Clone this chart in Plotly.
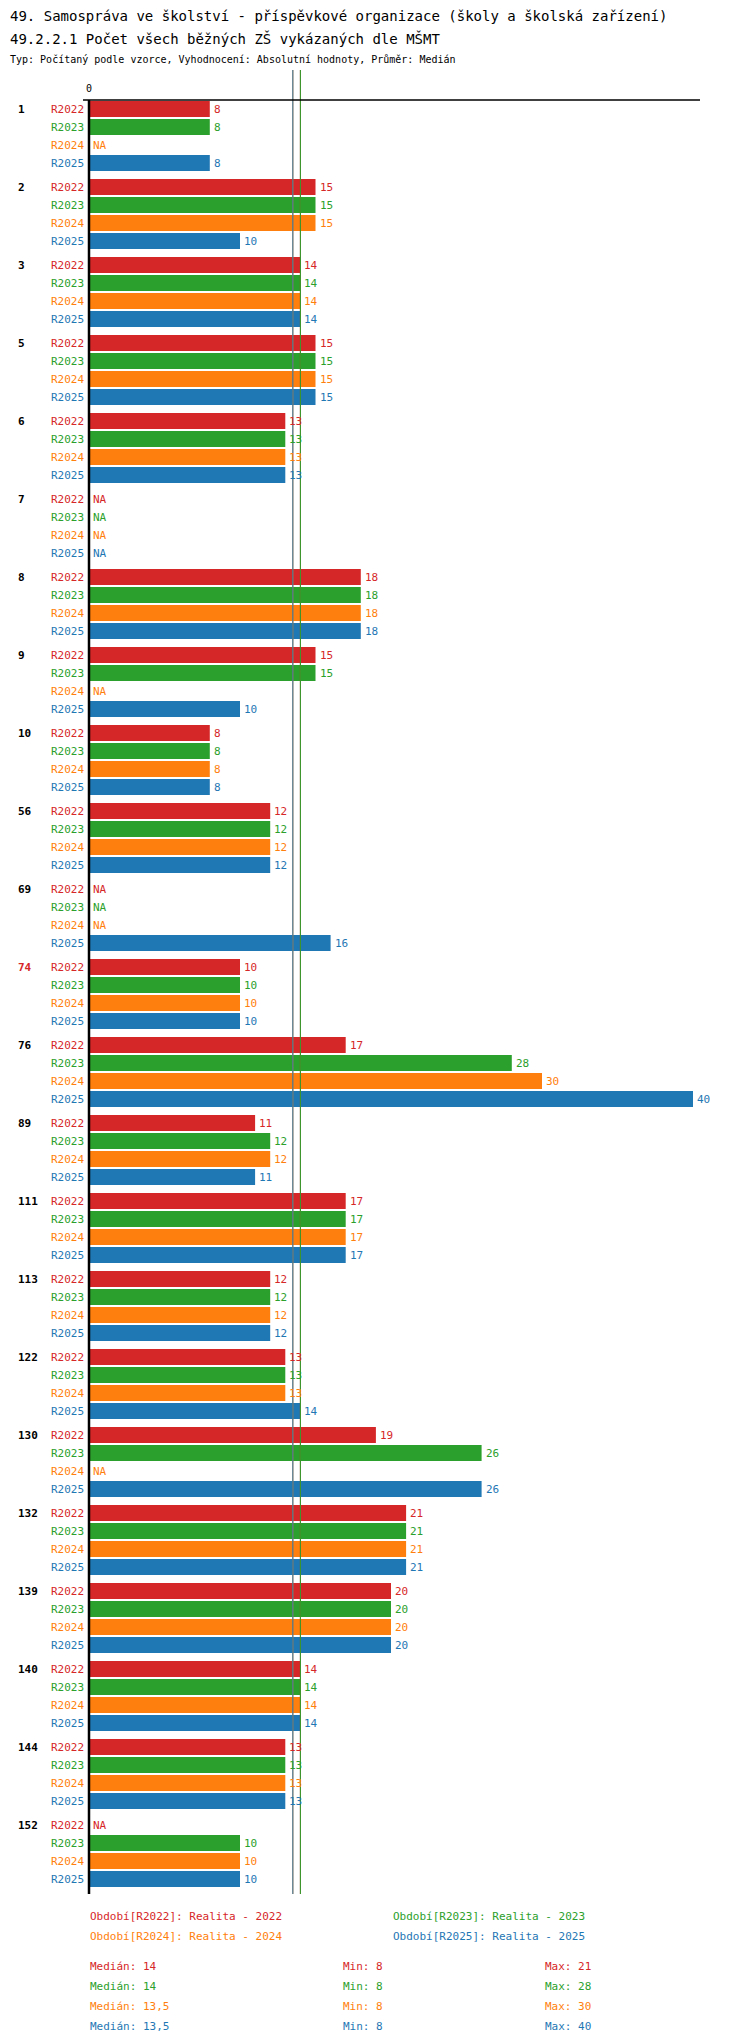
import plotly.graph_objs as go

# data
groups = ["1", "2", "3", "5", "6", "7", "8", "9", "10", "56", "69", "74", "76", "89",
          "111", "113", "122", "130", "132", "139", "140", "144", "152"]
periods = ["R2022", "R2023", "R2024", "R2025"]
colors = ["#d62728", "#2ca02c", "#ff7f0e", "#1f77b4"]
N = None
values = {
    "R2022": [8, 15, 14, 15, 13, N, 18, 15, 8, 12, N, 10, 17, 11, 17, 12, 13, 19, 21, 20, 14, 13, N],
    "R2023": [8, 15, 14, 15, 13, N, 18, 15, 8, 12, N, 10, 28, 12, 17, 12, 13, 26, 21, 20, 14, 13, 10],
    "R2024": [N, 15, 14, 15, 13, N, 18, N, 8, 12, N, 10, 30, 12, 17, 12, 13, N, 21, 20, 14, 13, 10],
    "R2025": [8, 10, 14, 15, 13, N, 18, 10, 8, 12, 16, 10, 40, 11, 17, 12, 14, 26, 21, 20, 14, 13, 10],
}
medians = [14, 14, 13.5, 13.5]
mins = [8, 8, 8, 8]
maxs = [21, 28, 30, 40]
median_txt = ["14", "14", "13,5", "13,5"]
highlight = "74"

W, H = 750, 2036
X0, PX = 81, 15.1          # pixel of zero, pixels per unit
TOP, GSTEP, RSTEP = 101, 78, 18
AX_TOP, AX_BOT = 92, 1886
FONT = "DejaVu Sans Mono"

def px2x(p):
    return (p - X0) / PX

fig = go.Figure()
annos = []
for pi, per in enumerate(periods):
    ys, xs, txt = [], [], []
    for gi, g in enumerate(groups):
        y = TOP + gi * GSTEP + pi * RSTEP
        v = values[per][gi]
        if v is not None:
            ys.append(y); xs.append(v)
        annos.append(dict(x=0, y=y, text=per, xanchor="right", xshift=-3, showarrow=False,
                          font=dict(color=colors[pi], size=11, family=FONT)))
        annos.append(dict(x=v if v is not None else 0, y=y, text=str(v) if v is not None else "NA",
                          xanchor="left", xshift=2, showarrow=False,
                          font=dict(color=colors[pi], size=11, family=FONT)))
    fig.add_trace(go.Bar(x=xs, y=ys, orientation="h", width=16, marker_color=colors[pi],
                         marker_line_width=0, showlegend=False))

for gi, g in enumerate(groups):
    annos.append(dict(x=px2x(8), y=TOP + gi * GSTEP, text="<b>%s</b>" % g, xanchor="left",
                      showarrow=False,
                      font=dict(color="#d62728" if g == highlight else "black", size=11, family=FONT)))

shapes = []
for pi in [0, 2, 1, 3]:
    pass
# median lines (orange under blue, red under green)
for pi in [2, 3, 0, 1]:
    shapes.append(dict(type="line", x0=medians[pi], x1=medians[pi], y0=AX_TOP - 30, y1=AX_BOT,
                       line=dict(color=colors[pi], width=1)))
shapes.append(dict(type="line", x0=px2x(75), x1=px2x(692), y0=AX_TOP, y1=AX_TOP,
                   line=dict(color="black", width=1.5)))
shapes.append(dict(type="line", x0=0, x1=0, y0=AX_TOP, y1=AX_BOT,
                   line=dict(color="black", width=2.5)))
annos.append(dict(x=0, y=AX_TOP - 12, text="0", showarrow=False,
                  font=dict(size=10, family=FONT, color="black")))

# titles
def ptext(x, y, text, size, color="black"):
    annos.append(dict(x=px2x(x), y=y, text=text, xanchor="left", yanchor="middle", showarrow=False,
                      font=dict(size=size, family=FONT, color=color)))

ptext(0, 8, "49. Samospráva ve školství - příspěvkové organizace (školy a školská zařízení)", 14)
ptext(0, 30, "49.2.2.1 Počet všech běžných ZŠ vykázaných dle MŠMT", 14)
ptext(0, 51, "Typ: Počítaný podle vzorce, Vyhodnocení: Absolutní hodnoty, Průměr: Medián", 10)

leg_pos = [(80, 1908), (383, 1908), (80, 1928), (383, 1928)]
for pi, per in enumerate(periods):
    x, y = leg_pos[pi]
    ptext(x, y, "Období[%s]: Realita - %s" % (per, per[1:]), 11, colors[pi])
for pi in range(4):
    y = 1958 + pi * 20
    ptext(80, y, "Medián: %s" % median_txt[pi], 11, colors[pi])
    ptext(333, y, "Min: %d" % mins[pi], 11, colors[pi])
    ptext(535, y, "Max: %d" % maxs[pi], 11, colors[pi])

fig.update_layout(
    width=W, height=H, margin=dict(l=0, r=0, t=0, b=0),
    plot_bgcolor="white", paper_bgcolor="white", barmode="overlay",
    xaxis=dict(range=[px2x(0), px2x(W)], visible=False, fixedrange=True),
    yaxis=dict(range=[H, 0], visible=False, fixedrange=True),
    annotations=annos, shapes=shapes,
)
fig.write_html("out.html")
